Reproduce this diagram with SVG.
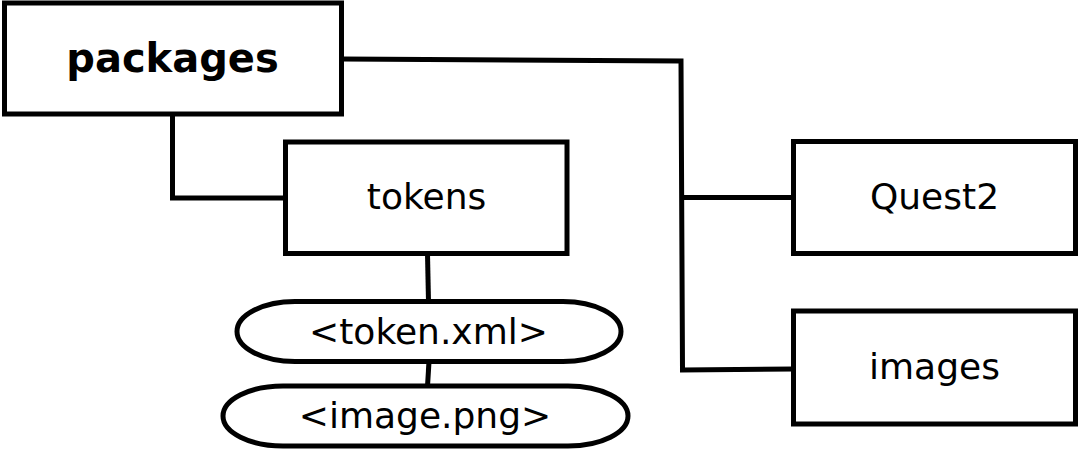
<svg xmlns="http://www.w3.org/2000/svg" width="1082" height="450" viewBox="0 0 1082 450">
<style>
.box{fill:#fff;stroke:#000;stroke-width:5}
.edge{fill:none;stroke:#000;stroke-width:5}
.lbl{font-family:"DejaVu Sans",sans-serif;font-size:36px;text-anchor:middle;fill:#000}
.bold{font-weight:bold;font-size:40px}
</style>
<rect width="1082" height="450" fill="#fff"/>
<g id="connectors">
<path class="edge" d="M342,59 L681,61 L682.5,370 L793.5,369"/>
<path class="edge" d="M681,197.5 L793.5,197.5"/>
<path class="edge" d="M172.5,114 L172.5,198 L285.5,198"/>
<path class="edge" d="M427.5,253.5 L428.5,301.5"/>
<path class="edge" d="M429,361.5 L427.5,386"/>
</g>
<g id="packages">
<rect class="box" x="4.5" y="3" width="337" height="111"/>
<text class="lbl bold" x="172.5" y="72">packages</text>
</g>
<g id="tokens">
<rect class="box" x="285.5" y="142" width="281.5" height="111.5"/>
<text class="lbl" x="426.5" y="209">tokens</text>
</g>
<g id="token-xml">
<rect class="box" x="237" y="301.5" width="384" height="60" rx="58" ry="30"/>
<text class="lbl" x="428.5" y="343.5">&lt;token.xml&gt;</text>
</g>
<g id="image-png">
<rect class="box" x="223" y="386" width="405" height="60" rx="60" ry="30"/>
<text class="lbl" x="425" y="427.5">&lt;image.png&gt;</text>
</g>
<g id="quest2">
<rect class="box" x="793.5" y="141.5" width="282" height="112"/>
<text class="lbl" x="934.5" y="208.5">Quest2</text>
</g>
<g id="images">
<rect class="box" x="793.5" y="311" width="282" height="113"/>
<text class="lbl" x="934.5" y="379">images</text>
</g>
</svg>
